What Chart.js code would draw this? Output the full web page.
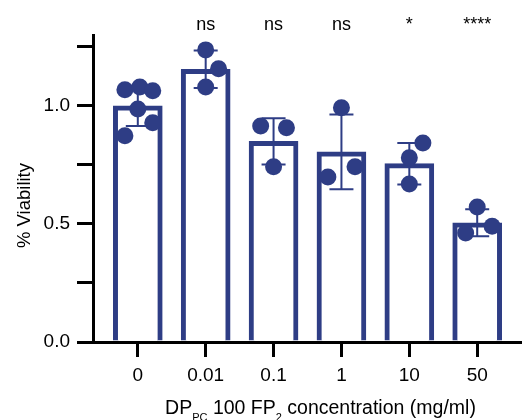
<!DOCTYPE html>
<html>
<head>
<meta charset="utf-8">
<script src="https://cdn.jsdelivr.net/npm/chart.js@4/dist/chart.umd.min.js"></script>
<style>
  html, body { margin: 0; padding: 0; background: #fff; }
  canvas { display: block; }
</style>
</head>
<body>
<canvas id="c" width="522" height="420"></canvas>
<script>
// ---- data ----
const categories = ['0', '0.01', '0.1', '1', '10', '50'];
const means = [1.00, 1.155, 0.85, 0.805, 0.755, 0.505];
const sds = [0.085, 0.079, 0.098, 0.158, 0.088, 0.057];
const rep0 = [1.068, 1.08, 1.064, 0.987, 0.928, 0.873];
const rep1 = [1.237, 1.157, 1.08];
const rep2 = [0.915, 0.907, 0.742];
const rep3 = [0.992, 0.699, 0.742];
const rep4 = [0.843, 0.78, 0.669];
const rep5 = [0.572, 0.49, 0.462];
const replicates = [rep0, rep1, rep2, rep3, rep4, rep5];
const significance = ['', 'ns', 'ns', 'ns', '*', '****'];
const yTicks = [0, 0.25, 0.5, 0.75, 1.0, 1.25];

// horizontal scatter offsets of the dots (layout, not data)
const jitter = [
  [-0.19, 0.03, 0.22, 0, 0.22, -0.19],
  [0, 0.19, 0],
  [-0.19, 0.19, 0],
  [0, -0.2, 0.2],
  [0.2, 0, 0],
  [0, 0.22, -0.17]
];

const NAVY = '#2e3d85';
const FONT = "'Liberation Sans', Arial, sans-serif";

const barData = means.map((m, i) => ({ x: i, y: m }));
const dotData = [];
replicates.forEach((arr, i) => arr.forEach((v, k) => dotData.push({ x: i + jitter[i][k], y: v })));

const errorBars = {
  id: 'errorBars',
  afterDatasetDraw(chart, args) {
    if (args.index !== 0) return;
    const { ctx, scales: { x, y } } = chart;
    ctx.save();
    ctx.strokeStyle = NAVY;
    ctx.lineWidth = 2;
    means.forEach((m, i) => {
      const px = x.getPixelForValue(i);
      const top = y.getPixelForValue(m + sds[i]);
      const bot = y.getPixelForValue(m - sds[i]);
      ctx.beginPath();
      ctx.moveTo(px, top); ctx.lineTo(px, bot);
      ctx.moveTo(px - 12, top); ctx.lineTo(px + 12, top);
      ctx.moveTo(px - 12, bot); ctx.lineTo(px + 12, bot);
      ctx.stroke();
    });
    ctx.restore();
  }
};

const texts = {
  id: 'texts',
  afterDraw(chart) {
    const { ctx, scales: { x } } = chart;
    ctx.save();
    ctx.fillStyle = '#000';
    // significance labels
    ctx.font = '18px ' + FONT;
    ctx.textAlign = 'center';
    ctx.textBaseline = 'alphabetic';
    significance.forEach((s, i) => {
      if (s) ctx.fillText(s, x.getPixelForValue(i), 30);
    });
    // y title
    ctx.save();
    ctx.translate(29.5, 205.5);
    ctx.rotate(-Math.PI / 2);
    ctx.font = '18.5px ' + FONT;
    ctx.textAlign = 'center';
    ctx.fillText('% Viability', 0, 0);
    ctx.restore();
    // x title with subscripts
    const big = '19.5px ' + FONT, small = '11px ' + FONT;
    const segs = [
      ['DP', big, 0], ['PC', small, 7], [' 100 FP', big, 0], ['2', small, 7], [' concentration (mg/ml)', big, 0]
    ];
    ctx.textAlign = 'left';
    let total = 0;
    segs.forEach(s => { ctx.font = s[1]; total += ctx.measureText(s[0]).width; });
    let cx = 320.5 - total / 2;
    segs.forEach(s => {
      ctx.font = s[1];
      ctx.fillText(s[0], cx, 414 + s[2]);
      cx += ctx.measureText(s[0]).width;
    });
    ctx.restore();
  }
};

new Chart(document.getElementById('c'), {
  type: 'bar',
  data: {
    datasets: [
      {
        type: 'bar',
        data: barData,
        backgroundColor: '#ffffff',
        borderColor: NAVY,
        borderWidth: 5,
        borderSkipped: 'start',
        barThickness: 49,
        order: 2
      },
      {
        type: 'scatter',
        data: dotData,
        pointRadius: 8.5,
        pointHoverRadius: 8.5,
        backgroundColor: NAVY,
        borderWidth: 0,
        order: 1
      }
    ]
  },
  options: {
    responsive: false,
    animation: false,
    events: [],
    layout: { autoPadding: false, padding: { top: 35, right: 0, left: 0, bottom: 0 } },
    plugins: { legend: { display: false }, tooltip: { enabled: false } },
    scales: {
      x: {
        type: 'linear',
        min: -0.66,
        max: 5.66,
        offset: false,
        afterBuildTicks: s => { s.ticks = categories.map((c, i) => ({ value: i })); },
        afterFit: s => { s.height = 78; s.paddingLeft = 0; s.paddingRight = 0; },
        ticks: {
          callback: v => categories[v],
          color: '#000',
          font: { family: FONT, size: 19 },
          padding: 7,
          autoSkip: false,
          maxRotation: 0
        },
        grid: {
          offset: false,
          drawOnChartArea: false,
          drawTicks: true,
          tickLength: 15,
          tickWidth: 3,
          lineWidth: 3,
          tickColor: '#000',
          color: '#000'
        },
        border: { color: '#000', width: 3 }
      },
      y: {
        min: 0,
        max: 1.3,
        afterBuildTicks: s => { s.ticks = yTicks.map(v => ({ value: v })); },
        afterFit: s => { s.width = 93; s.paddingTop = 0; s.paddingBottom = 0; },
        ticks: {
          callback: v => (Math.abs((v * 2) - Math.round(v * 2)) < 1e-9 ? v.toFixed(1) : ''),
          color: '#000',
          font: { family: FONT, size: 19 },
          padding: 7,
          autoSkip: false
        },
        grid: {
          drawOnChartArea: false,
          drawTicks: true,
          tickLength: 16,
          tickWidth: 3,
          lineWidth: 3,
          tickColor: '#000',
          color: '#000'
        },
        border: { color: '#000', width: 3 }
      }
    }
  },
  plugins: [errorBars, texts]
});
</script>
</body>
</html>
